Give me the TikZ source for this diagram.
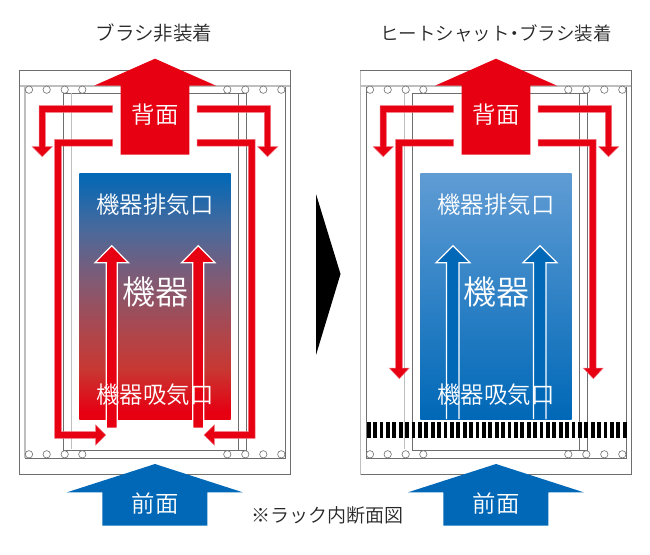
\documentclass[tikz,border=0pt]{standalone}
\usepackage{fontspec}
\setmainfont{Noto Sans CJK JP DemiLight}
\usetikzlibrary{calc, positioning}
\definecolor{RackRed}{RGB}{230, 0, 18}
\definecolor{RackBlue}{RGB}{0, 104, 183}
\definecolor{SkyBlue}{RGB}{96, 156, 212}
\definecolor{MidBlue}{RGB}{14, 124, 196}
\definecolor{HeatA}{RGB}{74, 105, 155}
\definecolor{HeatB}{RGB}{130, 90, 115}
\definecolor{HeatC}{RGB}{178, 68, 72}
\definecolor{HeatD}{RGB}{200, 55, 50}
\definecolor{FrameGrey}{RGB}{110, 110, 110}
\definecolor{RailGrey}{RGB}{190, 190, 190}
\pgfdeclareverticalshading{rackheat}{100bp}{
    color(0bp)=(RackRed); color(26.5bp)=(RackRed); color(35bp)=(HeatD); color(41.5bp)=(HeatC);
    color(53bp)=(HeatB); color(63.5bp)=(HeatA); color(75bp)=(RackBlue); color(100bp)=(RackBlue)}
\tikzset{
    frameline/.style={FrameGrey, line width=0.8pt},
    railline/.style={RailGrey, line width=1.6pt},
    redflow/.style={fill=RackRed, draw=RackRed!55!white, line width=0.5pt},
    hole/.style={circle, draw=FrameGrey, fill=white, line width=0.6pt, minimum size=7.4pt, inner sep=0pt},
    title/.style={font=\fontsize{19.5}{20}\selectfont, text=black!85},
    onred/.style={font=\fontsize{23.4}{24}\selectfont, text=white}
}
% Tornillos del bastidor, arriba y abajo
\newcommand{\rackholes}{
    \foreach \hx in {29,46.7,64.7,82.3,227.3,245.3,263.3,281.3} {
        \node[hole] at (\hx,89.7) {};
        \node[hole] at (\hx,454.3) {};
    }
}
% Salida trasera con los dos ramales de la parte alta
\newcommand{\backflow}{
    \fill[RackRed] (155,58.7) -- (216,85.7) -- (189.3,85.7) -- (189.3,154.7)
        -- (120.7,154.7) -- (120.7,85.7) -- (94,85.7) -- cycle;
    \draw[redflow] (112.7,105.7) -- (39,105.7) -- (39,146.7) -- (32.3,146.7) -- (42.2,156.7)
        -- (52.3,146.7) -- (45.3,146.7) -- (45.3,112.3) -- (112.7,112.3) -- cycle;
    \draw[redflow] (197,105.7) -- (270.7,105.7) -- (270.7,146.7) -- (277.7,146.7) -- (267.5,156.7)
        -- (257.7,146.7) -- (264.3,146.7) -- (264.3,112.3) -- (197,112.3) -- cycle;
}
\begin{document}
\begin{tikzpicture}[x=1pt, y=-1pt]
    \useasboundingbox (0,0) rectangle (650,554);

    % Sin cepillo
    \begin{scope}
        \draw[frameline] (19.5,70.5) rectangle (290,474.5);
        \draw[frameline] (25,85.7) -- (25,458) -- (285,458) -- (285,85.7);
        \draw[railline] (25,85.7) -- (25,458);
        \draw[railline] (19.5,85.7) -- (290,85.7);
        \draw[frameline] (63.5,450) -- (63.5,93.3) -- (246.7,93.3) -- (246.7,450) -- cycle;
        \draw[frameline] (238,93.3) -- (238,450);
        \draw[railline] (71.5,93.3) -- (71.5,449);
        \rackholes
        \shade[shading=rackheat] (79.3,173) rectangle (230.7,419);
        \backflow
        \draw[redflow] (112.7,139.3) -- (54.7,139.3) -- (54.7,438.3) -- (95.7,438.3) -- (95.7,445)
            -- (105.7,435) -- (95.7,425) -- (95.7,431.7) -- (61.3,431.7) -- (61.3,146) -- (112.7,146) -- cycle;
        \draw[redflow] (197,139.3) -- (255,139.3) -- (255,438.3) -- (214.3,438.3) -- (214.3,445)
            -- (204,435) -- (214.3,425) -- (214.3,431.7) -- (248.3,431.7) -- (248.3,146) -- (197,146) -- cycle;
        \draw[fill=RackRed, draw=white, line width=1.2pt] (106.2,428.3) -- (106.2,262.7) -- (95,262.7) -- (111.7,245.7)
            -- (128.4,262.7) -- (117.2,262.7) -- (117.2,428.3) -- cycle;
        \draw[fill=RackRed, draw=white, line width=1.2pt] (192.8,428.3) -- (192.8,262.7) -- (181.6,262.7) -- (198.3,245.7)
            -- (215,262.7) -- (203.8,262.7) -- (203.8,428.3) -- cycle;
        \fill[RackBlue] (155,464) -- (242.7,492.3) -- (207.3,492.3) -- (207.3,525.7)
            -- (102.3,525.7) -- (102.3,492.3) -- (67,492.3) -- cycle;
        \node[title] (titleA) at (154,33) {ブラシ非装着};
        \node[onred] (backA) at (155,115) {背面};
        \node[onred] (exhaustA) at (155,205) {機器排気口};
        \node[onred, font=\fontsize{33}{33}\selectfont] (deviceA) at (155,292) {機器};
        \node[onred] (intakeA) at (155,395) {機器吸気口};
        \node[onred] (frontA) at (155,504) {前面};
    \end{scope}

    % Con placa y cepillo
    \begin{scope}[xshift=341pt]
        \draw[frameline] (19.5,70.5) rectangle (290,474.5);
        \draw[railline] (19.5,70.5) -- (19.5,474.5);
        \draw[frameline] (25,85.7) -- (25,458) -- (285,458) -- (285,85.7);
        \draw[railline] (19.5,85.7) -- (290,85.7);
        \draw[frameline] (71,450) -- (71,93.3) -- (246.7,93.3) -- (246.7,450) -- cycle;
        \draw[frameline] (238,93.3) -- (238,450);
        \draw[railline] (63.5,93.3) -- (63.5,449);
        \rackholes
        \shade[top color=SkyBlue, middle color=MidBlue, bottom color=RackBlue] (79.3,173) rectangle (230.7,419);
        \backflow
        \draw[redflow] (112.7,139.3) -- (54.7,139.3) -- (54.7,368) -- (48.3,368) -- (58.3,378.7)
            -- (68.3,368) -- (61.3,368) -- (61.3,146) -- (112.7,146) -- cycle;
        \draw[redflow] (197,139.3) -- (255,139.3) -- (255,368) -- (262.3,368) -- (252.3,378.7)
            -- (242.3,368) -- (248.3,368) -- (248.3,146) -- (197,146) -- cycle;
        \draw[fill=RackBlue, draw=white, line width=1.2pt] (105.5,419) -- (105.5,262.7) -- (95,262.7) -- (112,245.7)
            -- (129,262.7) -- (118,262.7) -- (118,419);
        \draw[fill=RackBlue, draw=white, line width=1.2pt] (192.5,419) -- (192.5,262.7) -- (182,262.7) -- (199,245.7)
            -- (216,262.7) -- (205,262.7) -- (205,419);
        \foreach \i in {0,...,40}
            \fill[black] ({25.7+\i*6.4},421.7) rectangle ++(3.8,16.6);
        \fill[RackBlue] (155,464) -- (242.7,492.3) -- (207.3,492.3) -- (207.3,525.7)
            -- (102.3,525.7) -- (102.3,492.3) -- (67,492.3) -- cycle;
        \node[title, font=\fontsize{18.5}{19}\selectfont] (titleB) at (155,33) {ヒートシャット\hspace{-4.5pt}・\hspace{-4.5pt}ブラシ装着};
        \node[onred] (backB) at (155,115) {背面};
        \node[onred] (exhaustB) at (155,205) {機器排気口};
        \node[onred, font=\fontsize{33}{33}\selectfont] (deviceB) at (155,292) {機器};
        \node[onred] (intakeB) at (155,395) {機器吸気口};
        \node[onred] (frontB) at (155,504) {前面};
    \end{scope}

    % Triangulo entre los dos bastidores
    \fill[black] (316,194) -- (340.5,274) -- (316,355) -- cycle;
    \node[title, font=\fontsize{19}{19}\selectfont] (note) at (327,515) {※ラック内断面図};
\end{tikzpicture}
\end{document}
